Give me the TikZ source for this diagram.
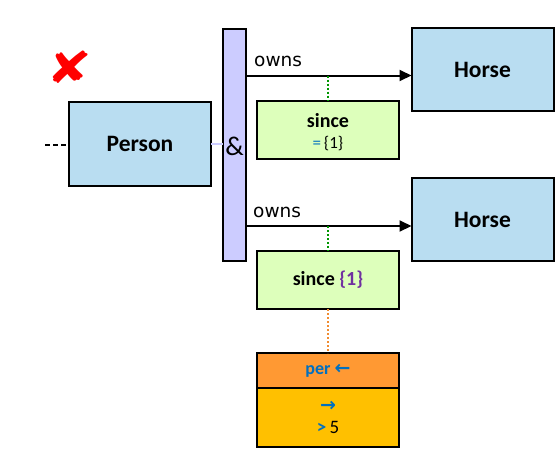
\documentclass[tikz,border=0pt]{standalone}
\usepackage{fontspec}
\setmainfont{Carlito}
\newfontfamily\labelfont{DejaVu Sans}
\newfontfamily\symfont{DejaVu Sans}
\usetikzlibrary{arrows.meta}

\definecolor{entityblue}{RGB}{185,221,241}
\definecolor{joinviolet}{RGB}{204,204,255}
\definecolor{attrgreen}{RGB}{221,255,187}
\definecolor{perorange}{RGB}{255,153,51}
\definecolor{peryellow}{RGB}{255,192,0}
\definecolor{keyblue}{RGB}{0,112,192}
\definecolor{setpurple}{RGB}{112,48,160}
\definecolor{linkgreen}{RGB}{0,150,0}
\definecolor{linkorange}{RGB}{240,140,50}
\definecolor{crossred}{RGB}{255,0,0}

\tikzset{
  box/.style={draw=black, line width=2pt, inner sep=0pt, outer sep=0pt,
    minimum width=142pt},
  entity/.style={box, fill=entityblue, minimum height=83pt,
    font=\fontsize{23.5}{26}\selectfont\bfseries},
  attr/.style={box, fill=attrgreen, minimum height=58pt},
  relarrow/.style={line width=2pt, -{Triangle[length=12pt, width=11pt]}},
  rellabel/.style={anchor=base west, inner sep=0pt,
    font=\labelfont\fontsize{18.5}{20}\selectfont},
  attrlink/.style={line width=2pt, dotted},
  plain/.style={inner sep=0pt},
}

\begin{document}
\begin{tikzpicture}[x=1pt, y=-1pt]
  \useasboundingbox (0,0) rectangle (555,448);

  % negation mark above the source entity
  \node[plain, text=crossred, xscale=1.25,
        font=\symfont\bfseries\fontsize{44}{44}\selectfont]
    (neg) at (70,67) {✘};

  % source entity and its incoming dashed link
  \node[entity, minimum height=84pt] (person) at (140,144) {Person};
  \coordinate (stub) at (45,145);
  \draw[line width=1.5pt, dash pattern=on 5pt off 3pt] (stub) -- (person.west |- stub);

  % conjunction bar
  \node[box, fill=joinviolet, minimum width=23pt, minimum height=232pt]
    (bar) at (234.5,145) {};
  \draw[joinviolet, line width=1.5pt] (person.east) -- (person.east -| bar.west);
  \node[plain, font=\fontsize{27}{27}\selectfont] (amp) at (234.5,146) {\&};

  % target entities
  \node[entity] (horse1) at (482.5,69.5) {Horse};
  \node[entity] (horse2) at (482.5,219.5) {Horse};

  % first relation
  \coordinate (r1) at (0,75.5);
  \draw[relarrow] (bar.east |- r1) -- (horse1.west |- r1);
  \node[rellabel] (owns1) at (254,66.5) {owns};
  \node[attr] (since1) at (328,130) {};
  \node[plain, font=\fontsize{20}{22}\selectfont\bfseries] (since1name)
    at (328,121) {since};
  \node[plain, font=\fontsize{17}{18}\selectfont] (since1set)
    at (328,144) {{\color{keyblue}=}\,\{1\}};
  \draw[attrlink, linkgreen] (since1.north |- r1) -- (since1.north);

  % second relation
  \coordinate (r2) at (0,226);
  \draw[relarrow] (bar.east |- r2) -- (horse2.west |- r2);
  \node[rellabel] (owns2) at (253,217.5) {owns};
  \node[attr, font=\fontsize{20}{22}\selectfont\bfseries] (since2) at (328,280)
    {since {\color{setpurple}\{1\}}};
  \draw[attrlink, linkgreen] (since2.north |- r2) -- (since2.north);

  % per-constraint attached to the second attribute
  \node[box, fill=perorange, minimum height=35pt, text=keyblue,
        font=\fontsize{18}{20}\selectfont\bfseries] (perhead) at (328,370.5)
    {per {\symfont\bfseries\fontsize{19}{20}\selectfont ←}};
  \node[box, fill=peryellow, minimum height=59pt, anchor=north]
    (perbody) at (perhead.south) {};
  \node[plain, text=keyblue, font=\symfont\bfseries\fontsize{19}{20}\selectfont]
    (perdir) at (328,406) {→};
  \node[plain, font=\fontsize{19}{20}\selectfont] (perval) at (328,427)
    {{\color{keyblue}\bfseries >}\,5};
  \draw[attrlink, linkorange] (since2.south) -- (perhead.north);
\end{tikzpicture}
\end{document}
